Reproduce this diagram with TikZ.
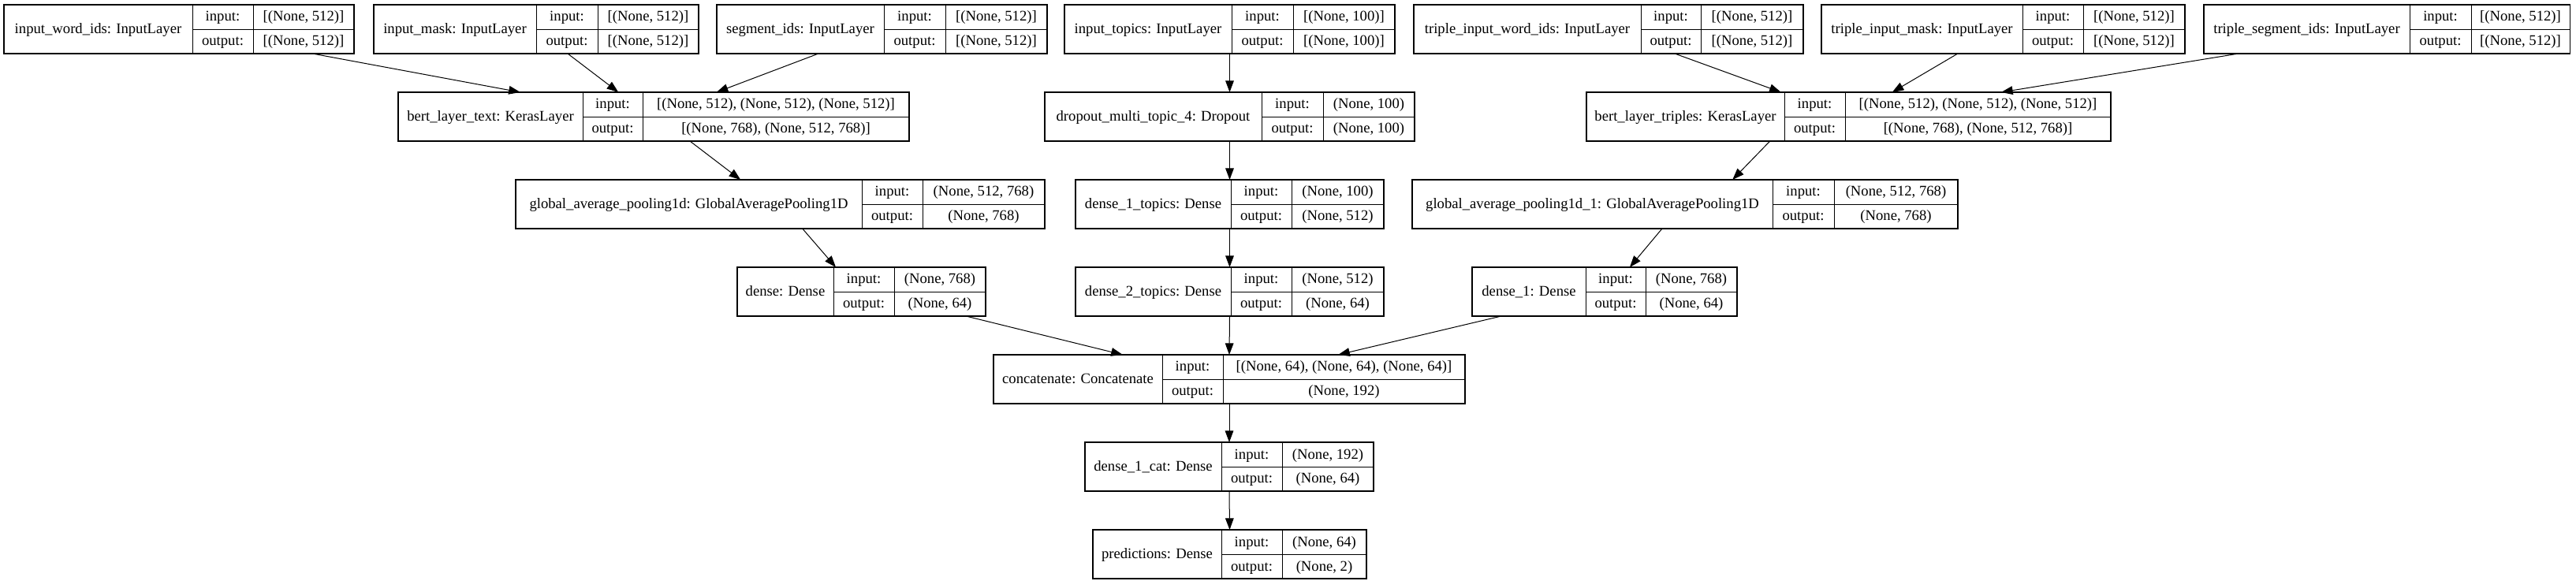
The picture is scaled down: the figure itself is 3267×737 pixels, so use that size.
\documentclass[tikz,border=0pt]{standalone}
\usepackage{fontspec}
\setmainfont{Liberation Serif}
\usetikzlibrary{arrows.meta,calc}

% one keras record: name, left, top, label width, io width, value width, label, input, output
\newcommand\kerasrec[9]{%
  \node[recbox, minimum width={(#4+#5+#6)*0.75pt}] (#1) at (#2,#3) {};
  \draw[recline] ($(#1.north west)+(#4,0)$) -- ++(0,62)
                 ($(#1.north west)+(#4,31)$) -- ++(#5+#6,0)
                 ($(#1.north west)+(#4+#5,0)$) -- ++(0,62);
  \node[rectext] (#1-lab) at ($(#1.north west)+({#4/2},36.5)$) {#7};
  \node[rectext] (#1-ii) at ($(#1.north west)+({#4+#5/2},21)$) {input:};
  \node[rectext] (#1-oo) at ($(#1.north west)+({#4+#5/2},52)$) {output:};
  \node[rectext] (#1-iv) at ($(#1.north west)+({#4+#5+#6/2},21)$) {#8};
  \node[rectext] (#1-ov) at ($(#1.north west)+({#4+#5+#6/2},52)$) {#9};
}

\begin{document}
\begin{tikzpicture}[x=0.75pt, y=-0.75pt,
  recbox/.style={draw, line width=0.8pt, anchor=north west, minimum height=46.5pt, inner sep=0pt, outer sep=0pt},
  recline/.style={line width=0.7pt},
  rectext/.style={anchor=base, inner sep=0pt, font=\fontsize{14pt}{16pt}\selectfont},
  arr/.style={line width=0.75pt, -{Triangle[length=11pt, width=8pt]}}]
  \useasboundingbox (0,0) rectangle (3267,737);

  % inputs
  \kerasrec{iwi}{5}{6}{239}{77}{128}{input\_word\_ids: InputLayer}{[(None, 512)]}{[(None, 512)]}
  \kerasrec{imask}{474}{6}{206}{78}{128}{input\_mask: InputLayer}{[(None, 512)]}{[(None, 512)]}
  \kerasrec{segids}{909}{6}{212}{78}{129}{segment\_ids: InputLayer}{[(None, 512)]}{[(None, 512)]}
  \kerasrec{itopics}{1350}{6}{212}{78}{129}{input\_topics: InputLayer}{[(None, 100)]}{[(None, 100)]}
  \kerasrec{tiwi}{1793}{6}{288}{76}{130}{triple\_input\_word\_ids: InputLayer}{[(None, 512)]}{[(None, 512)]}
  \kerasrec{timask}{2310}{6}{255}{77}{129}{triple\_input\_mask: InputLayer}{[(None, 512)]}{[(None, 512)]}
  \kerasrec{tsegids}{2795}{6}{261}{78}{125}{triple\_segment\_ids: InputLayer}{[(None, 512)]}{[(None, 512)]}

  % encoders
  \kerasrec{bertt}{505}{117}{234}{76}{338}{bert\_layer\_text: KerasLayer}{[(None, 512), (None, 512), (None, 512)]}{[(None, 768), (None, 512, 768)]}
  \kerasrec{dropout}{1325}{117}{275}{78}{116}{dropout\_multi\_topic\_4: Dropout}{(None, 100)}{(None, 100)}
  \kerasrec{bertr}{2012}{117}{251}{77}{337}{bert\_layer\_triples: KerasLayer}{[(None, 512), (None, 512), (None, 512)]}{[(None, 768), (None, 512, 768)]}

  \kerasrec{gap}{654}{228}{439}{77}{155}{global\_average\_pooling1d: GlobalAveragePooling1D}{(None, 512, 768)}{(None, 768)}
  \kerasrec{dtopa}{1364}{228}{197}{77}{117}{dense\_1\_topics: Dense}{(None, 100)}{(None, 512)}
  \kerasrec{gapb}{1791}{228}{457}{78}{157}{global\_average\_pooling1d\_1: GlobalAveragePooling1D}{(None, 512, 768)}{(None, 768)}

  \kerasrec{dense}{935}{339}{122}{77}{116}{dense: Dense}{(None, 768)}{(None, 64)}
  \kerasrec{dtopb}{1364}{339}{197}{77}{117}{dense\_2\_topics: Dense}{(None, 512)}{(None, 64)}
  \kerasrec{denseb}{1867}{339}{144}{76}{116}{dense\_1: Dense}{(None, 768)}{(None, 64)}

  % head
  \kerasrec{concat}{1260}{450}{214}{77}{307}{concatenate: Concatenate}{[(None, 64), (None, 64), (None, 64)]}{(None, 192)}
  \kerasrec{dcat}{1376}{561}{173}{77}{116}{dense\_1\_cat: Dense}{(None, 192)}{(None, 64)}
  \kerasrec{pred}{1386}{672}{163}{77}{107}{predictions: Dense}{(None, 64)}{(None, 2)}

  % connections
  \draw[arr] ($(iwi.south west)!0.881!(iwi.south east)$) -- ($(bertt.north west)!0.239!(bertt.north east)$);
  \draw[arr] ($(imask.south west)!0.597!(imask.south east)$) -- ($(bertt.north west)!0.431!(bertt.north east)$);
  \draw[arr] ($(segids.south west)!0.308!(segids.south east)$) -- ($(bertt.north west)!0.623!(bertt.north east)$);
  \draw[arr] ($(tiwi.south west)!0.670!(tiwi.south east)$) -- ($(bertr.north west)!0.371!(bertr.north east)$);
  \draw[arr] ($(timask.south west)!0.375!(timask.south east)$) -- ($(bertr.north west)!0.583!(bertr.north east)$);
  \draw[arr] ($(tsegids.south west)!0.095!(tsegids.south east)$) -- ($(bertr.north west)!0.791!(bertr.north east)$);
  \draw[arr] (itopics.south) -- (dropout.north);
  \draw[arr] ($(bertt.south west)!0.571!(bertt.south east)$) -- ($(gap.north west)!0.425!(gap.north east)$);
  \draw[arr] (dropout.south) -- (dtopa.north);
  \draw[arr] ($(bertr.south west)!0.350!(bertr.south east)$) -- ($(gapb.north west)!0.587!(gapb.north east)$);
  \draw[arr] ($(gap.south west)!0.542!(gap.south east)$) -- ($(dense.north west)!0.397!(dense.north east)$);
  \draw[arr] (dtopa.south) -- (dtopb.north);
  \draw[arr] ($(gapb.south west)!0.458!(gapb.south east)$) -- ($(denseb.north west)!0.595!(denseb.north east)$);
  \draw[arr] ($(dense.south west)!0.921!(dense.south east)$) -- ($(concat.north west)!0.274!(concat.north east)$);
  \draw[arr] (dtopb.south) -- (concat.north);
  \draw[arr] ($(denseb.south west)!0.110!(denseb.south east)$) -- ($(concat.north west)!0.731!(concat.north east)$);
  \draw[arr] (concat.south) -- (dcat.north);
  \draw[arr] (dcat.south) -- (pred.north);
\end{tikzpicture}
\end{document}
